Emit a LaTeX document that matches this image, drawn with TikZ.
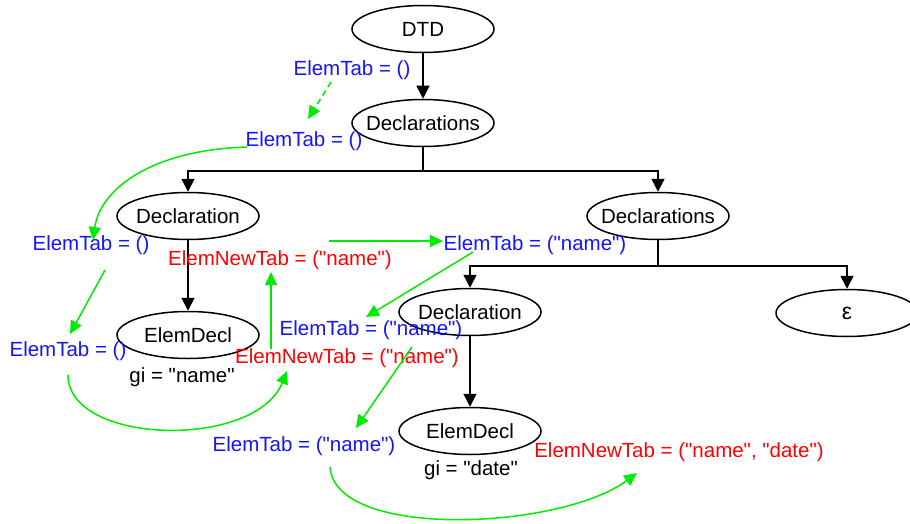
\documentclass[tikz,border=0pt]{standalone}
\usepackage{fontspec}
\setmainfont{Liberation Sans}[Ligatures=TeXOff]
\usetikzlibrary{shapes.geometric,arrows.meta}
\definecolor{lblue}{RGB}{20,20,255}
\definecolor{lred}{RGB}{255,0,0}
\definecolor{lgreen}{RGB}{0,235,0}
\begin{document}
\begin{tikzpicture}[x=1pt,y=-1pt,
  font=\fontsize{20.5pt}{24pt}\selectfont,
  tnode/.style={draw, ellipse, line width=1.5pt, minimum width=142pt, minimum height=47pt, inner sep=0pt},
  tree/.style={line width=1.5pt, -{Triangle[length=13pt,width=13pt]}},
  lbl/.style={inner sep=0pt, text=lblue},
  nlbl/.style={inner sep=0pt, text=lred},
  txt/.style={inner sep=0pt},
  flow/.style={draw=lgreen, line width=1.5pt, -{Triangle[length=13pt,width=12pt]}}
]
\useasboundingbox (0,0) rectangle (910,524);

% tree nodes
\node[tnode] (dtd)    at (423,29)  {\makebox[0pt]{DTD}};
\node[tnode] (decls1) at (423,123) {\makebox[0pt]{Declarations}};
\node[tnode] (decl1)  at (188,216) {\makebox[0pt]{Declaration}};
\node[tnode] (decls2) at (658,216) {\makebox[0pt]{Declarations}};
\node[tnode] (edecl1) at (188,335) {\makebox[0pt]{ElemDecl}};
\node[tnode] (decl2)  at (470,312) {\makebox[0pt]{Declaration}};
\node[tnode] (eps)    at (847,313) {\makebox[0pt]{\fontsize{23pt}{24pt}\selectfont ε}};
\node[tnode] (edecl2) at (470,431) {\makebox[0pt]{ElemDecl}};

% tree connectors
\draw[tree] (dtd.south) -- (decls1.north);
\draw[tree] (decls1.south) -- ++(0,23.5) -| (decl1.north);
\draw[tree] (decls1.south) -- ++(0,23.5) -| (decls2.north);
\draw[tree] (decl1.south) -- (edecl1.north);
\draw[tree] (decls2.south) -- ++(0,25.5) -| (decl2.north);
\draw[tree] (decls2.south) -- ++(0,25.5) -| (eps.north);
\draw[tree] (decl2.south) -- (edecl2.north);

% attribute texts
\node[txt] (gi1) at (182,377) {gi = "name"};
\node[txt] (gi2) at (471,470) {gi = "date"};

% labels
\node[lbl] (et1) at (352,70)  {ElemTab = ()};
\node[lbl] (et2) at (304,141) {ElemTab = ()};
\node[lbl] (et3) at (91,245)  {ElemTab = ()};
\node[lbl] (et4) at (68,351)  {ElemTab = ()};
\node[nlbl] (nt1) at (280,260) {ElemNewTab = ("name")};
\node[lbl] (et5) at (535,245) {ElemTab = ("name")};
\node[lbl] (et6) at (371,330) {ElemTab = ("name")};
\node[nlbl] (nt2) at (347,358) {ElemNewTab = ("name")};
\node[lbl] (et7) at (304,446) {ElemTab = ("name")};
\node[nlbl] (nt3) at (679,452) {ElemNewTab = ("name", "date")};

% green flow arrows
\coordinate (a1s) at (331,82);  \coordinate (a1e) at (308,119);
\coordinate (a2s) at (247,147); \coordinate (a2e) at (93,240);
\coordinate (a3s) at (329,241); \coordinate (a3e) at (443,241);
\coordinate (a4s) at (105,270); \coordinate (a4e) at (70,334);
\coordinate (a5s) at (68,375);  \coordinate (a5e) at (287,371);
\coordinate (a6s) at (271,349); \coordinate (a6e) at (271,272);
\coordinate (a7s) at (473,252); \coordinate (a7e) at (366,317);
\coordinate (a8s) at (412,347); \coordinate (a8e) at (356,428);
\coordinate (a9s) at (330,467); \coordinate (a9e) at (637,473);

\draw[flow, dash pattern=on 6pt off 4pt] (a1s) -- (a1e);
\draw[flow] (a2s) .. controls (150,150) and (100,190) .. (a2e);
\draw[flow] (a3s) -- (a3e);
\draw[flow] (a4s) -- (a4e);
\draw[flow] (a5s) .. controls (68,445) and (255,450) .. (a5e);
\draw[flow] (a6s) -- (a6e);
\draw[flow] (a7s) -- (a7e);
\draw[flow] (a8s) -- (a8e);
\draw[flow] (a9s) .. controls (335,540) and (560,530) .. (a9e);
\end{tikzpicture}
\end{document}
